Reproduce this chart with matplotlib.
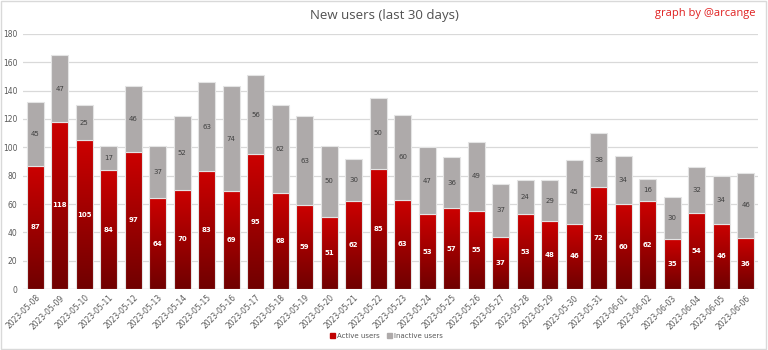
import matplotlib.pyplot as plt
import matplotlib.patches as mpatches
import numpy as np
import pandas as pd
from matplotlib.colors import LinearSegmentedColormap

dates = pd.date_range("2023-05-08", "2023-06-06").strftime("%Y-%m-%d").tolist()
active = [87, 118, 105, 84, 97, 64, 70, 83, 69, 95, 68, 59, 51, 62, 85,
          63, 53, 57, 55, 37, 53, 48, 46, 72, 60, 62, 35, 54, 46, 36]
inactive = [45, 47, 25, 17, 46, 37, 52, 63, 74, 56, 62, 63, 50, 30, 50,
            60, 47, 36, 49, 37, 24, 29, 45, 38, 34, 16, 30, 32, 34, 46]

RED_TOP = "#CC0000"
RED_BOT = "#700000"
GREY = "#AEAAAA"
EDGE = "#E4E4E4"

fig = plt.figure(figsize=(7.68, 3.5), dpi=100)
fig.patch.set_facecolor("white")
ax = fig.add_axes([0.030, 0.174, 0.957, 0.729])

x = np.arange(len(dates))
width = 0.7

# active bars are drawn transparent and filled with a vertical gradient below
red_bars = ax.bar(x, active, width, color="none", edgecolor=EDGE, lw=0.8,
                  zorder=3)
grey_bars = ax.bar(x, inactive, width, bottom=active, color=GREY,
                   edgecolor=EDGE, lw=0.8, zorder=3)

cmap = LinearSegmentedColormap.from_list("redgrad", [RED_BOT, RED_TOP])
grad = np.linspace(0, 1, 256).reshape(-1, 1)
for b in red_bars:
    x0, y0 = b.get_x(), b.get_y()
    w, h = b.get_width(), b.get_height()
    im = ax.imshow(grad, cmap=cmap, origin="lower", aspect="auto",
                   extent=(x0, x0 + w, y0, y0 + h), zorder=2.5)
    im.set_clip_path(b)

for xi, a, i in zip(x, active, inactive):
    ax.text(xi, a / 2, str(a), ha="center", va="center", fontsize=5,
            color="white", fontweight="bold", zorder=4)
    ax.text(xi, a + i / 2, str(i), ha="center", va="center", fontsize=5,
            color="#404040", zorder=4)

ax.set_xlim(-0.5, len(dates) - 0.5)
ax.set_ylim(0, 180)
ax.set_yticks(range(0, 181, 20))
ax.yaxis.grid(True, color="#D9D9D9", lw=0.9, zorder=0)
ax.set_axisbelow(True)
ax.set_xticks(x)
ax.set_xticklabels(dates, rotation=45, ha="right", rotation_mode="anchor",
                   fontsize=5.5, color="#595959")
ax.tick_params(axis="y", labelsize=5.5, colors="#595959", length=0, pad=4)
ax.tick_params(axis="x", length=0, pad=3)
for s in ax.spines.values():
    s.set_visible(False)
ax.axhline(0, color="#D9D9D9", lw=0.9, zorder=1)

fig.text(0.5, 0.955, "New users (last 30 days)", ha="center", va="center",
         fontsize=9.5, color="#505050", family="Open Sans")
fig.text(0.984, 0.962, "graph by @arcange", ha="right", va="center",
         fontsize=8, color="#E02020", family="Open Sans")

handles = [mpatches.Patch(color="#C00000", label="Active users"),
           mpatches.Patch(color=GREY, label="Inactive users")]
fig.legend(handles=handles, loc="center", bbox_to_anchor=(0.503, 0.04),
           ncol=2, frameon=False, fontsize=5, handlelength=0.7,
           handleheight=0.7, handletextpad=0.3, columnspacing=1.0,
           labelcolor="#595959")

fig.add_artist(mpatches.Rectangle((0.001, 0.002), 0.997, 0.995,
                                  transform=fig.transFigure, fill=False,
                                  edgecolor="#D9D9D9", lw=1))

plt.savefig("out.png", dpi=100, facecolor="white")
